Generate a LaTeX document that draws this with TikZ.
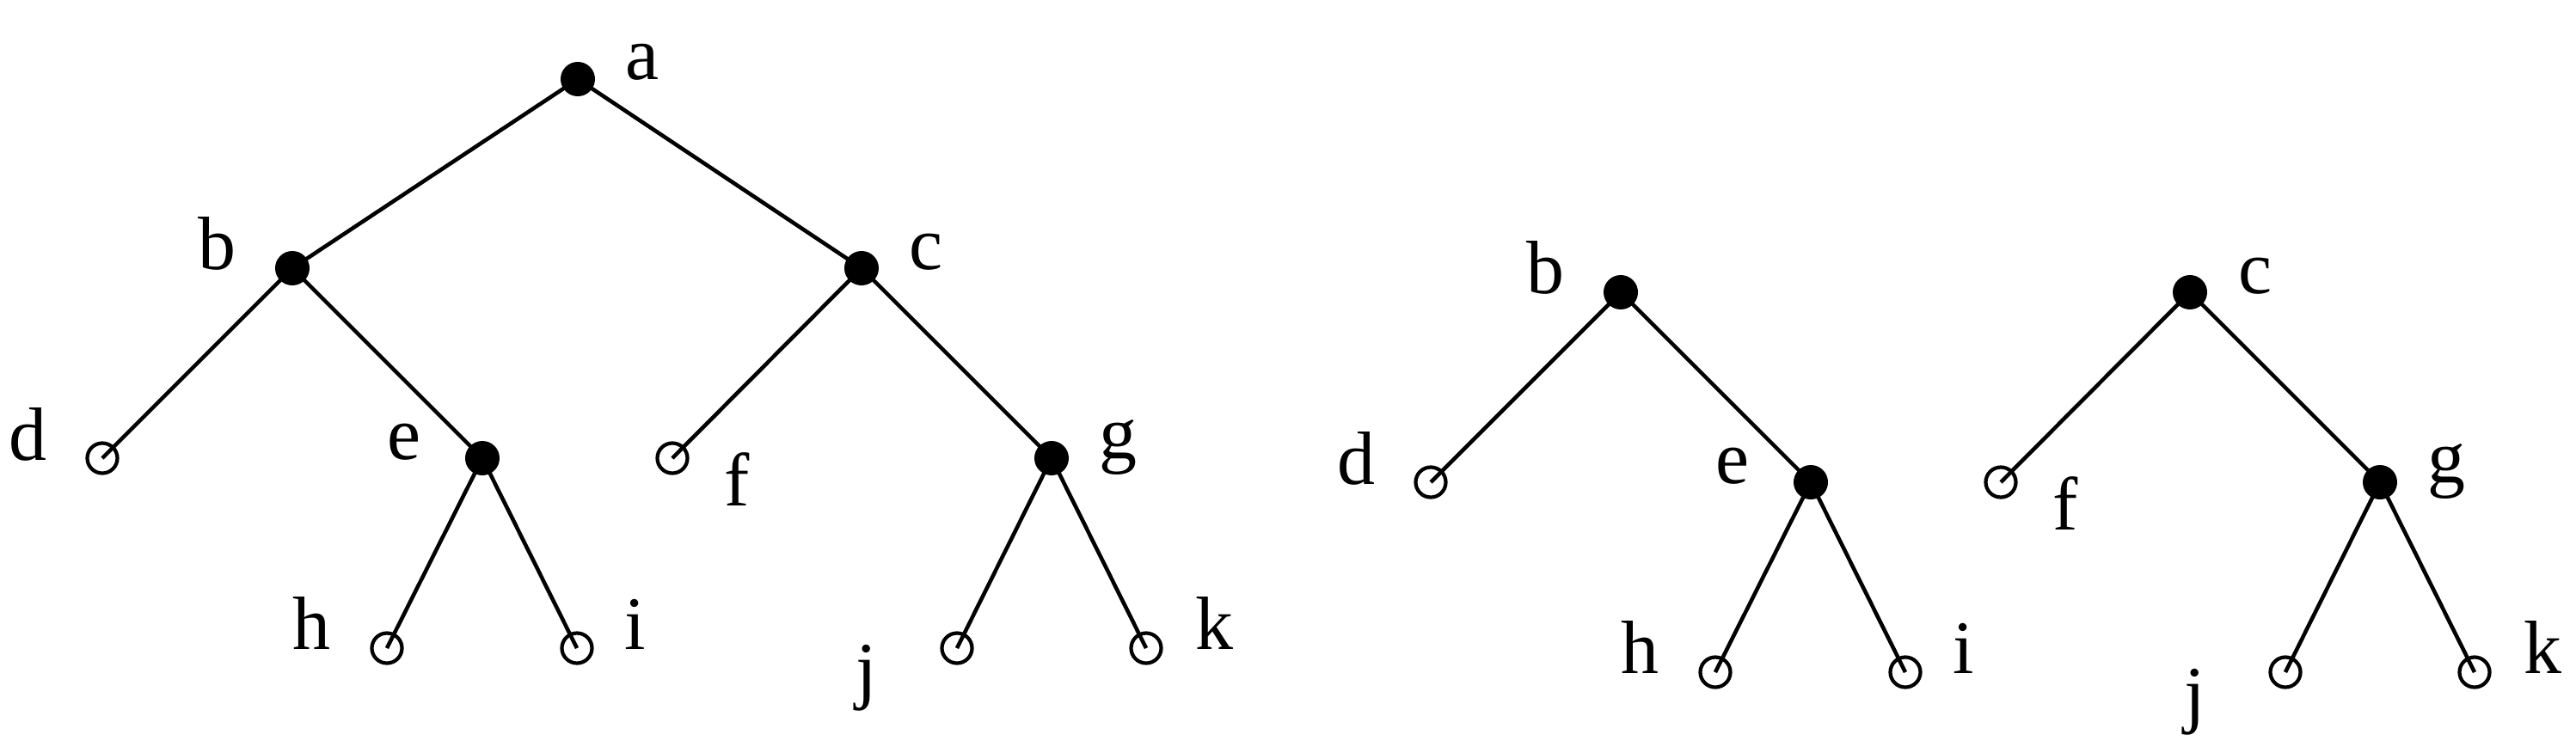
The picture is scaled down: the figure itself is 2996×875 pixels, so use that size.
\documentclass[tikz,border=0pt]{standalone}
\usepackage{fontspec}
\setmainfont{Liberation Serif}
\usetikzlibrary{backgrounds}
\begin{document}
\begin{tikzpicture}[x=0.01cm,y=-0.01cm,
  filled/.style={circle,fill=black,inner sep=0pt,minimum size=0.4cm},
  open/.style={circle,draw=black,line width=1.2pt,inner sep=0pt,minimum size=0.35cm},
  lbl/.style={anchor=base,inner sep=0pt,font=\fontsize{25}{30}\selectfont},
  edge/.style={line width=1.3pt}]
\useasboundingbox (0,0) rectangle (2996,875);
% left tree
\node[filled] (a) at (672,92) {};
\node[filled] (b) at (340,312) {};
\node[filled] (c) at (1002,312) {};
\node[open] (d) at (119,533) {};
\node[filled] (e) at (561,533) {};
\node[open] (f) at (782,533) {};
\node[filled] (g) at (1223,533) {};
\node[open] (h) at (450,754) {};
\node[open] (i) at (671,754) {};
\node[open] (j) at (1113,754) {};
\node[open] (k) at (1333,754) {};
\node[lbl] (ta) at (747,92) {a};
\node[lbl] (tb) at (252,313) {b};
\node[lbl] (tc) at (1077,313) {c};
\node[lbl] (td) at (32,535) {d};
\node[lbl] (te) at (470,534) {e};
\node[lbl] (tf) at (857,588) {f};
\node[lbl] (tg) at (1300,533) {g};
\node[lbl] (th) at (362,755) {h};
\node[lbl] (ti) at (739,755) {i};
\node[lbl] (tj) at (1008,808) {j};
\node[lbl] (tk) at (1412,755) {k};
% right trees
\node[filled] (rb) at (1885,340) {};
\node[filled] (rc) at (2547,340) {};
\node[open] (rd) at (1664,561) {};
\node[filled] (re) at (2106,561) {};
\node[open] (rf) at (2327,561) {};
\node[filled] (rg) at (2768,561) {};
\node[open] (rh) at (1995,782) {};
\node[open] (ri) at (2216,782) {};
\node[open] (rj) at (2658,782) {};
\node[open] (rk) at (2878,782) {};
\node[lbl] (trb) at (1797,341) {b};
\node[lbl] (trc) at (2623,341) {c};
\node[lbl] (trd) at (1577,563) {d};
\node[lbl] (tre) at (2015,562) {e};
\node[lbl] (trf) at (2402,616) {f};
\node[lbl] (trg) at (2845,561) {g};
\node[lbl] (trh) at (1907,783) {h};
\node[lbl] (tri) at (2284,783) {i};
\node[lbl] (trj) at (2553,836) {j};
\node[lbl] (trk) at (2957,783) {k};
\begin{pgfonlayer}{background}
\foreach \p/\q in {a/b,a/c,b/d,b/e,c/f,c/g,e/h,e/i,g/j,g/k,rb/rd,rb/re,re/rh,re/ri,rc/rf,rc/rg,rg/rj,rg/rk}
  \draw[edge] (\p.center) -- (\q.center);
\end{pgfonlayer}
\end{tikzpicture}
\end{document}
